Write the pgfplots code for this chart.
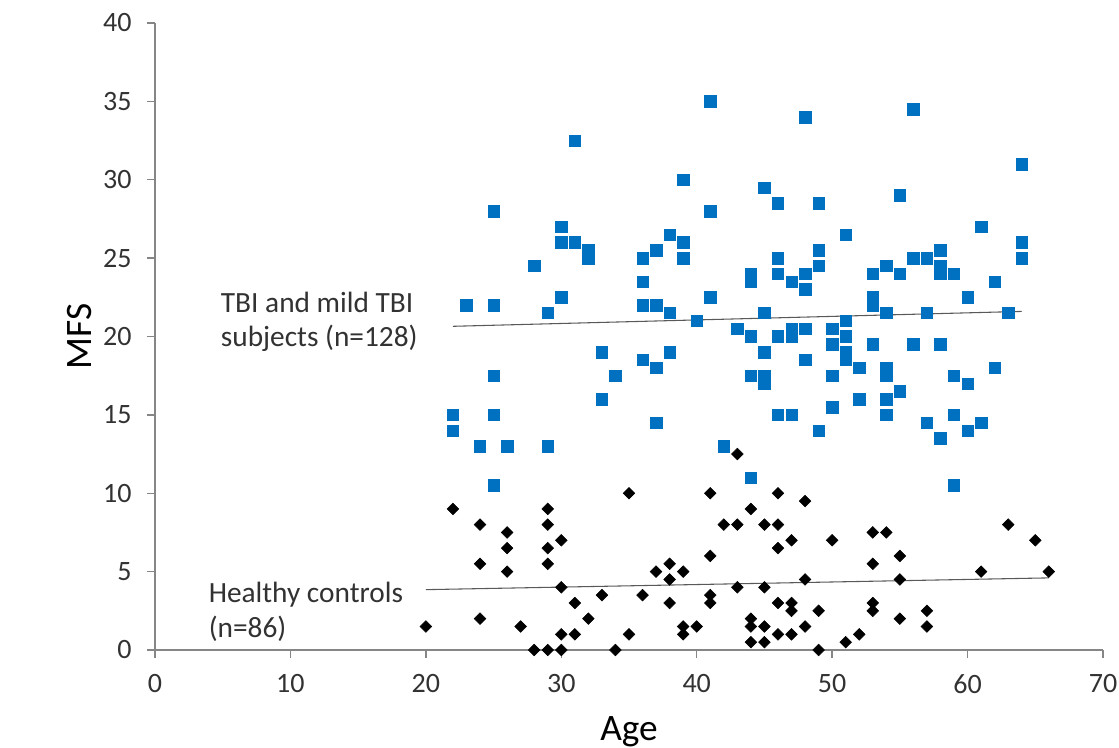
\documentclass[border=0pt]{standalone}
\usepackage{pgfplots}
\pgfplotsset{compat=1.18}
\usepackage{fontspec}
\setmainfont{Carlito}
\definecolor{tbiblue}{RGB}{0,112,192}
\definecolor{axgray}{RGB}{134,134,134}
\definecolor{txt}{RGB}{50,50,50}

\pgfplotstableread{
age mfs
22 15
22 14
23 22
24 13
25 28
25 22
25 17.5
25 15
25 10.5
26 13
28 24.5
29 21.5
29 13
30 27
30 26
30 22.5
31 32.5
31 26
32 25.5
32 25
33 19
33 16
34 17.5
36 25
36 23.5
36 22
36 18.5
37 25.5
37 22
37 18
37 14.5
38 26.5
38 21.5
38 19
39 30
39 26
39 25
40 21
41 35
41 28
41 22.5
42 13
43 20.5
44 24
44 23.5
44 20
44 17.5
44 11
45 29.5
45 21.5
45 19
45 17.5
45 17
46 28.5
46 25
46 24
46 20
46 15
47 23.5
47 20.5
47 20
47 15
48 34
48 24
48 23
48 20.5
48 18.5
49 28.5
49 25.5
49 24.5
49 14
50 20.5
50 19.5
50 17.5
50 15.5
51 26.5
51 21
51 20
51 19
51 18.5
52 18
52 16
53 24
53 22.5
53 22
53 19.5
54 24.5
54 21.5
54 18
54 17.5
54 16
54 15
55 29
55 24
55 16.5
56 34.5
56 25
56 19.5
57 25
57 21.5
57 14.5
58 25.5
58 24.5
58 24
58 19.5
58 13.5
59 24
59 17.5
59 15
59 10.5
60 22.5
60 17
60 14
61 27
61 14.5
62 23.5
62 18
63 21.5
64 31
64 26
64 25
}\tbi

\pgfplotstableread{
age mfs
20 1.5
22 9
24 8
24 5.5
24 2
26 7.5
26 6.5
26 5
27 1.5
28 0
29 9
29 8
29 6.5
29 5.5
29 0
30 7
30 4
30 1
30 0
31 3
31 1
32 2
33 3.5
34 0
35 10
35 1
36 3.5
37 5
38 5.5
38 4.5
38 3
39 5
39 1.5
39 1
40 1.5
41 10
41 6
41 3.5
41 3
42 8
43 12.5
43 8
43 4
44 9
44 2
44 1.5
44 0.5
45 8
45 4
45 1.5
45 0.5
46 10
46 8
46 6.5
46 3
46 1
47 7
47 3
47 2.5
47 1
48 9.5
48 4.5
48 1.5
49 2.5
49 0
50 7
51 0.5
52 1
53 7.5
53 5.5
53 3
53 2.5
54 7.5
55 6
55 4.5
55 2
57 2.5
57 1.5
61 5
63 8
65 7
66 5
}\healthy

\begin{document}
\begin{tikzpicture}
\begin{axis}[
  scale only axis, width=711pt, height=470.25pt,
  xmin=0, xmax=70, ymin=0, ymax=40,
  axis x line=bottom, axis y line=left,
  axis line style={axgray, line width=1pt, -},
  xtick={0,10,...,70}, ytick={0,5,...,40},
  tick align=outside, major tick length=6pt,
  tick style={axgray, line width=1pt},
  ticklabel style={font=\fontsize{21}{24}\selectfont, text=txt},
  x tick label style={yshift=-9pt},
  y tick label style={xshift=-8pt},
  /pgf/number format/assume math mode=true,
  xlabel={Age}, ylabel={MFS},
  label style={font=\fontsize{28}{32}\selectfont, text=black},
  x label style={at={(axis description cs:0.5,-0.13)}, anchor=center},
  y label style={at={(axis description cs:-0.0791,0.5)}, anchor=center},
  clip=false,
]
\coordinate (SW) at (rel axis cs:0,0);
\coordinate (NE) at (rel axis cs:1,1);
\addplot[only marks, mark=square*, mark size=4.3pt, color=tbiblue] table[x=age,y=mfs] {\tbi};
\addplot[only marks, mark=square*, mark size=3.1pt, mark options={rotate=45}, color=black] table[x=age,y=mfs] {\healthy};
\addplot[no marks, color=black!65, line width=0.8pt] coordinates {(22,20.65) (64,21.6)};
\addplot[no marks, color=black!65, line width=0.8pt] coordinates {(20,3.85) (66,4.6)};
\node[anchor=base west, inner sep=0pt, font=\fontsize{22}{26}\selectfont, text=txt] at (axis cs:4.85,21.56) {TBI and mild TBI};
\node[anchor=base west, inner sep=0pt, font=\fontsize{22}{26}\selectfont, text=txt] at (axis cs:4.85,19.33) {subjects (n=128)};
\node[anchor=base west, inner sep=0pt, font=\fontsize{22}{26}\selectfont, text=txt] at (axis cs:3.95,3.06) {Healthy controls};
\node[anchor=base west, inner sep=0pt, font=\fontsize{22}{26}\selectfont, text=txt] at (axis cs:3.95,0.77) {(n=86)};
\end{axis}
\pgfresetboundingbox
\path ([xshift=-116.25pt,yshift=-73.5pt]SW) rectangle ([xshift=12pt,yshift=17.25pt]NE);
\end{tikzpicture}
\end{document}
